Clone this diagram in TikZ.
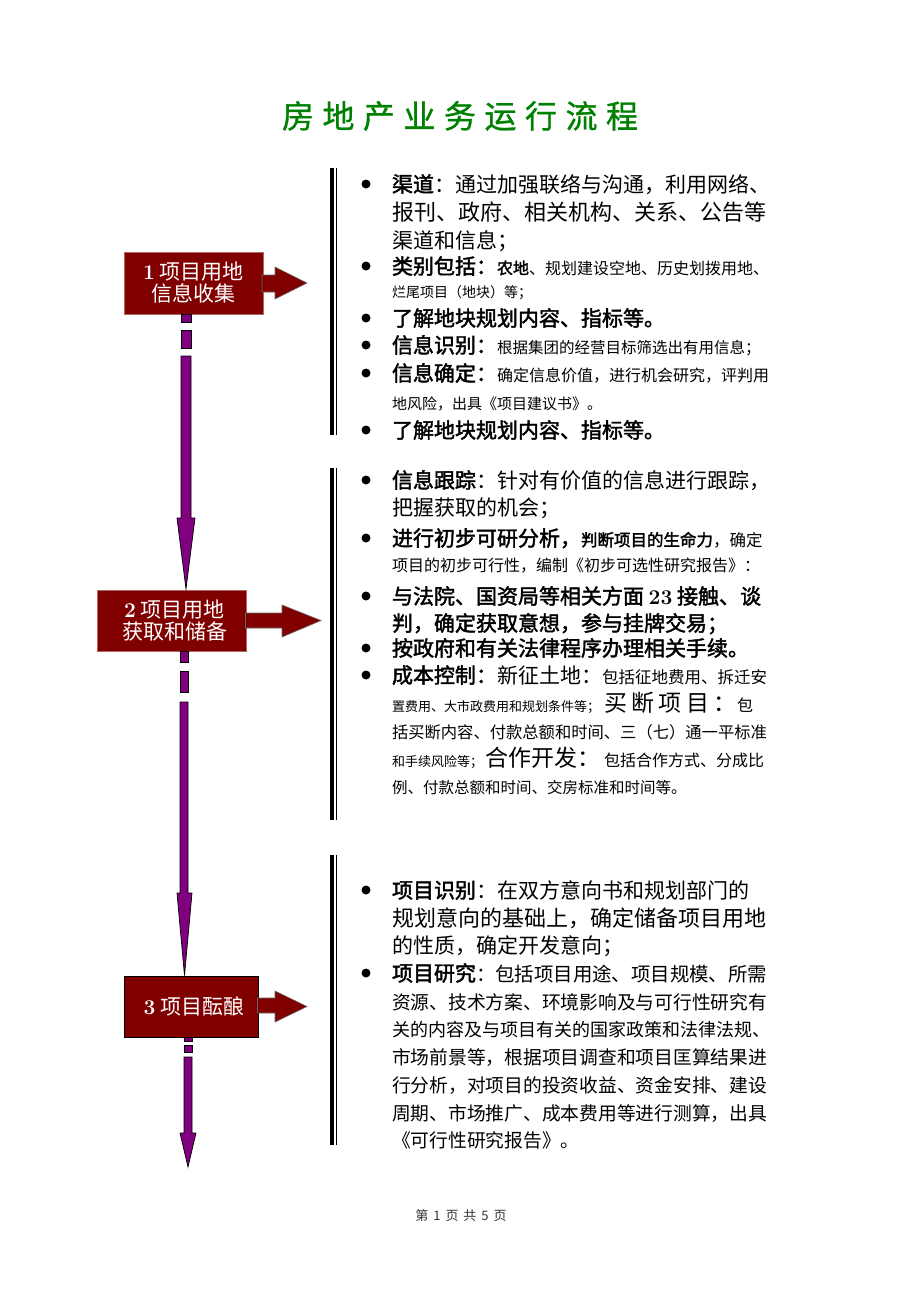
\documentclass[tikz,border=0pt]{standalone}
\usepackage{fontspec}
\newfontfamily\cjk{Noto Sans CJK SC}
\newfontfamily\cjkb[FakeBold=2]{Noto Sans CJK SC}
\newfontfamily\cjkt[FakeBold=1]{Noto Sans CJK SC}
\newcommand\fs[1]{\fontsize{#1}{#1}\selectfont}
\definecolor{dred}{RGB}{128,0,0}
\definecolor{purp}{RGB}{128,0,128}
\definecolor{tgreen}{RGB}{0,128,0}
\begin{document}
\begin{tikzpicture}[x=1pt,y=-1pt,
  txt/.style={inner sep=0pt, outer sep=0pt, font=\cjk\fs{21}, text=black, anchor=base west},
  box/.style={fill=dred, line width=0.8pt, text=white, font=\cjk\fontsize{21}{22}\selectfont, align=center, inner sep=0pt},
  bul/.style={circle, fill=black, inner sep=0pt, minimum size=9pt},
  conn/.style={fill=purp, draw=black, line width=0.7pt},
  barr/.style={fill=dred, draw=black!60, line width=0.6pt},
  bar/.style={draw=black, line width=3.5pt},
  barthin/.style={draw=black, line width=1.5pt}]
\useasboundingbox (0,0) rectangle (920,1302);
\fill[white] (0,0) rectangle (920,1302);

% title
\node[font=\cjkt\fs{32}, text=tgreen, inner sep=0pt] (title) at (460,116) {房\hspace{8.5pt}地\hspace{8.5pt}产\hspace{8.5pt}业\hspace{8.5pt}务\hspace{8.5pt}运\hspace{8.5pt}行\hspace{8.5pt}流\hspace{8.5pt}程};

% boxes
\node[box, draw=dred!60!white, minimum width=139pt, minimum height=62pt] (b1) at (193.5,283) {{\rmfamily\bfseries 1} 项目用地\\信息收集};
\node[box, draw=dred!60!white, minimum width=149pt, minimum height=61pt] (b2) at (171.5,620.5) {\hspace{6pt}{\rmfamily\bfseries 2} 项目用地\\\hspace{6pt}获取和储备};
\node[box, draw=black, minimum width=134pt, minimum height=61pt] (b3) at (191,1006.5) {\hspace{6pt}{\rmfamily\bfseries 3} 项目酝酿};

% right block arrows
\draw[barr] (262,275) -- (275,275) -- (275,267) -- (307,283) -- (275,299) -- (275,292) -- (262,292) -- cycle;
\draw[barr] (245.5,613) -- (282,613) -- (282,605) -- (321,620.5) -- (282,637) -- (282,628) -- (245.5,628) -- cycle;
\draw[barr] (257.5,998) -- (275,998) -- (275,991) -- (307,1006.5) -- (275,1022) -- (275,1013) -- (257.5,1013) -- cycle;

% purple connectors
\draw[conn] (181,314) rectangle (191,322);
\draw[conn] (181,330) rectangle (191,348);
\draw[conn] (181,356) -- (181,518) -- (177,518) -- (186,589) -- (195,518) -- (191,518) -- (191,356) -- cycle;

\draw[conn] (180,651.5) rectangle (188,662);
\draw[conn] (180,671) rectangle (188,692);
\draw[conn] (180,702) -- (180,893) -- (177,893) -- (184.5,975.5) -- (192,893) -- (188,893) -- (188,702) -- cycle;

\draw[conn] (184,1037.5) rectangle (192,1041);
\draw[conn] (184,1045) rectangle (192,1052);
\draw[conn] (184,1057) -- (184,1133) -- (180,1133) -- (188,1167) -- (196,1133) -- (192,1133) -- (192,1057) -- cycle;

% vertical bars
\draw[bar] (332,168) -- (332,435);
\draw[barthin] (336.5,168) -- (336.5,435);
\draw[bar] (332,468) -- (332,820);
\draw[barthin] (336.5,468) -- (336.5,820);
\draw[bar] (332,855) -- (332,1145);
\draw[barthin] (336.5,855) -- (336.5,1145);

% block 1
\node[bul] (u1) at (366,184) {};
\node[txt] (a1) at (392,192) {{\cjkb 渠道}：通过加强联络与沟通，利用网络、};
\node[txt] (a2) at (392,220) {\fs{22}报刊、政府、相关机构、关系、公告等};
\node[txt] (a3) at (392,248) {渠道和信息；};
\node[bul] (u2) at (366,266) {};
\node[txt] (a4) at (392,274) {{\cjkb 类别包括：}{\fs{16}{\cjkb 农地}、规划建设空地、历史划拨用地、}};
\node[txt] (a5) at (392,297) {\fs{14}烂尾项目（地块）等；};
\node[bul] (u3) at (366,318) {};
\node[txt] (a6) at (392,326) {\cjkb 了解地块规划内容、指标等。};
\node[bul] (u4) at (366,345) {};
\node[txt] (a7) at (392,353) {{\cjkb 信息识别：}{\fs{15.5}根据集团的经营目标筛选出有用信息；}};
\node[bul] (u5) at (366,373) {};
\node[txt] (a8) at (392,381) {{\cjkb 信息确定：}{\fs{16}确定信息价值，进行机会研究，评判用}};
\node[txt] (a9) at (392,409) {\fs{15}地风险，出具《项目建议书》。};
\node[bul] (u6) at (366,430) {};
\node[txt] (a10) at (392,438) {\cjkb 了解地块规划内容、指标等。};

% block 2
\node[bul] (v1) at (366,480) {};
\node[txt] (c1) at (392,488) {{\cjkb 信息跟踪}：针对有价值的信息进行跟踪，};
\node[txt] (c2) at (392,515) {把握获取的机会；};
\node[bul] (v2) at (366,538) {};
\node[txt] (c3) at (392,546) {{\cjkb 进行初步可研分析，}{\fs{16.5}{\cjkb 判断项目的生命力}，确定}};
\node[txt] (c4) at (392,571) {\fs{16}项目的初步可行性，编制《初步可选性研究报告》：};
\node[bul] (v3) at (366,596) {};
\node[txt] (c5) at (392,604) {\cjkb 与法院、国资局等相关方面 {\rmfamily\bfseries 23} 接触、谈};
\node[txt] (c6) at (392,631) {\cjkb 判，确定获取意想，参与挂牌交易；};
\node[bul] (v4) at (366,648) {};
\node[txt] (c7) at (392,656) {\cjkb 按政府和有关法律程序办理相关手续。};
\node[bul] (v5) at (366,675) {};
\node[txt] (c8) at (392,683) {{\cjkb 成本控制：}新征土地：{\fs{16.5}包括征地费用、拆迁安}};
\node[txt] (c9) at (392,711) {{\fs{13}置费用、大市政费用和规划条件等；}\hspace{4pt}{\fs{23}买\hspace{4.5pt}断\hspace{4.5pt}项\hspace{4.5pt}目\hspace{4.5pt}：}{\fs{16}包}};
\node[txt] (c10) at (392,738) {\fs{16.3}括买断内容、付款总额和时间、三（七）通一平标准};
\node[txt] (c11) at (392,766) {{\fs{13}和手续风险等；}\hspace{2pt}{\fs{23}合作开发：}\hspace{4pt}{\fs{16}包括合作方式、分成比}};
\node[txt] (c12) at (392,793) {\fs{15.5}例、付款总额和时间、交房标准和时间等。};

% block 3
\node[bul] (w1) at (366,890) {};
\node[txt] (d1) at (392,898) {{\cjkb 项目识别}：在双方意向书和规划部门的};
\node[txt] (d2) at (392,926) {\fs{22}规划意向的基础上，确定储备项目用地};
\node[txt] (d3) at (392,953) {的性质，确定开发意向；};
\node[bul] (w2) at (366,973) {};
\node[txt] (d4) at (392,981) {{\cjkb 项目研究}{\fs{19.4}：包括项目用途、项目规模、所需}};
\node[txt] (d5) at (392,1009) {\fs{18.75}资源、技术方案、环境影响及与可行性研究有};
\node[txt] (d6) at (392,1036) {\fs{18}关的内容及与项目有关的国家政策和法律法规、};
\node[txt] (d7) at (392,1064) {\fs{18.75}市场前景等，根据项目调查和项目匡算结果进};
\node[txt] (d8) at (392,1092) {\fs{18.75}行分析，对项目的投资收益、资金安排、建设};
\node[txt] (d9) at (392,1120) {\fs{18.75}周期、市场推广、成本费用等进行测算，出具};
\node[txt] (d10) at (392,1147) {\fs{18.75}《可行性研究报告》。};

% footer
\node[font=\cjk\fs{13}, text=black!80, inner sep=0pt] (foot) at (461,1216) {第\hspace{5pt}1\hspace{5pt}页\hspace{5pt}共\hspace{5pt}5\hspace{5pt}页};
\end{tikzpicture}
\end{document}
